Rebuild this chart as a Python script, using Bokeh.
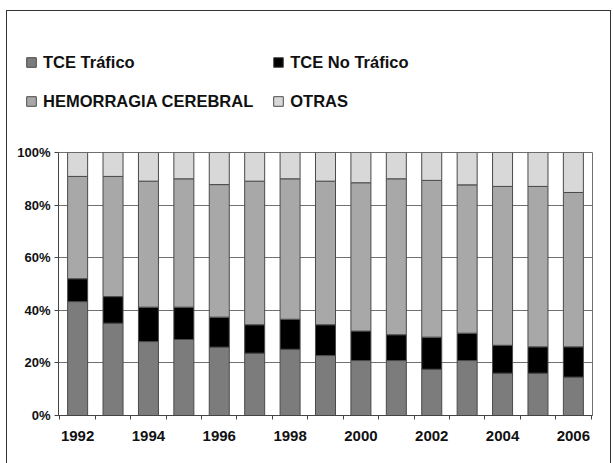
from bokeh.plotting import figure
from bokeh.layouts import column
from bokeh.models import Range1d, FixedTicker, PrintfTickFormatter, Legend, LegendItem, ColumnDataSource
from bokeh.embed import file_html
from bokeh.resources import INLINE

years = [1992, 1993, 1994, 1995, 1996, 1997, 1998, 1999, 2000, 2001, 2002, 2003, 2004, 2005, 2006]
tce_trafico = [43.3, 35.1, 28.1, 28.9, 26.0, 23.7, 25.2, 22.8, 20.9, 20.9, 17.6, 20.9, 16.1, 16.1, 14.6]
tce_no_trafico = [8.7, 10.1, 13.1, 12.3, 11.4, 10.8, 11.4, 11.7, 11.2, 9.8, 12.2, 10.4, 10.6, 10.0, 11.5]
hemorragia = [38.9, 45.7, 47.9, 48.8, 50.4, 54.6, 53.4, 54.6, 56.4, 59.3, 59.6, 56.4, 60.4, 61.0, 58.7]
otras = [9.1, 9.1, 10.9, 10.0, 12.2, 10.9, 10.0, 10.9, 11.5, 10.0, 10.6, 12.3, 12.9, 12.9, 15.2]
series_names = ["TCE Tráfico", "TCE No Tráfico", "HEMORRAGIA CEREBRAL", "OTRAS"]
series_keys = ["traf", "notraf", "hem", "otras"]
colors = ["#7c7c7c", "#000000", "#a8a8a8", "#d8d8d8"]
y_ticks = [0, 20, 40, 60, 80, 100]
x_label_years = [1992, 1994, 1996, 1998, 2000, 2002, 2004, 2006]

src = ColumnDataSource(dict(x=years, traf=tce_trafico, notraf=tce_no_trafico, hem=hemorragia, otras=otras))

# ---- legend figure (top) ----
lf = figure(width=603, height=129, output_backend="svg", toolbar_location=None,
            x_range=Range1d(0, 1), y_range=Range1d(0, 1), x_axis_type=None, y_axis_type=None,
            min_border_left=0, min_border_right=0, min_border_top=23, min_border_bottom=0)
lf.frame_align = False
lf.grid.grid_line_color = None
lf.outline_line_color = None
offscreen = ColumnDataSource(dict(x=[-5], top=[0]))
leg_renderers = [lf.vbar(x="x", top="top", width=0.5, source=offscreen, color=c, line_color="#4a4a4a")
                 for c in colors]
items = [LegendItem(label=n, renderers=[r]) for n, r in zip(series_names, leg_renderers)]
legend = Legend(items=items, location="top_left", orientation="horizontal", ncols=2,
                padding=0, margin=18, spacing=19, border_line_color=None,
                background_fill_alpha=0, glyph_width=12, glyph_height=12, label_standoff=6,
                label_text_font="Liberation Sans", label_text_font_style="bold",
                label_text_font_size="16.5px", label_text_color="#111111", label_height=20)
lf.add_layout(legend, "center")

# ---- chart figure ----
p = figure(width=603, height=323, output_backend="svg", toolbar_location=None,
           x_range=Range1d(1991.46, 2006.54), y_range=Range1d(0, 100),
           min_border_left=51, min_border_right=18, min_border_top=12, min_border_bottom=48)
p.frame_align = False

p.vbar_stack(series_keys, x="x", width=0.565, source=src, color=colors,
             line_color="#4a4a4a", line_width=1)

p.xgrid.grid_line_color = None
p.ygrid.grid_line_color = "#707070"
p.ygrid.ticker = FixedTicker(ticks=y_ticks)
p.outline_line_color = "#707070"

xa = p.xaxis[0]
xa.ticker = FixedTicker(ticks=x_label_years, minor_ticks=[y + 0.5 for y in range(1991, 2007)])
xa.major_tick_out = 0
xa.major_tick_in = 0
xa.minor_tick_out = 4
xa.minor_tick_in = 0
xa.minor_tick_line_color = "#444444"
xa.axis_line_color = "#444444"
xa.major_label_standoff = 11
xa.major_label_text_font = "Liberation Sans"
xa.major_label_text_font_style = "bold"
xa.major_label_text_font_size = "15px"
xa.major_label_text_color = "#111111"

ya = p.yaxis[0]
ya.ticker = FixedTicker(ticks=y_ticks)
ya.formatter = PrintfTickFormatter(format="%d%%")
ya.major_tick_out = 4
ya.major_tick_in = 0
ya.minor_tick_line_color = None
ya.axis_line_color = "#444444"
ya.major_tick_line_color = "#444444"
ya.major_label_standoff = 4
ya.major_label_text_font = "Liberation Sans"
ya.major_label_text_font_style = "bold"
ya.major_label_text_font_size = "13px"
ya.major_label_text_color = "#111111"

layout = column(lf, p, spacing=0,
                styles={"border-left": "1px solid #333", "border-top": "1px solid #333",
                        "border-right": "1px solid #333",
                        "margin-left": "6px", "margin-top": "10px"})

open("out.html", "w").write(file_html(layout, INLINE))
